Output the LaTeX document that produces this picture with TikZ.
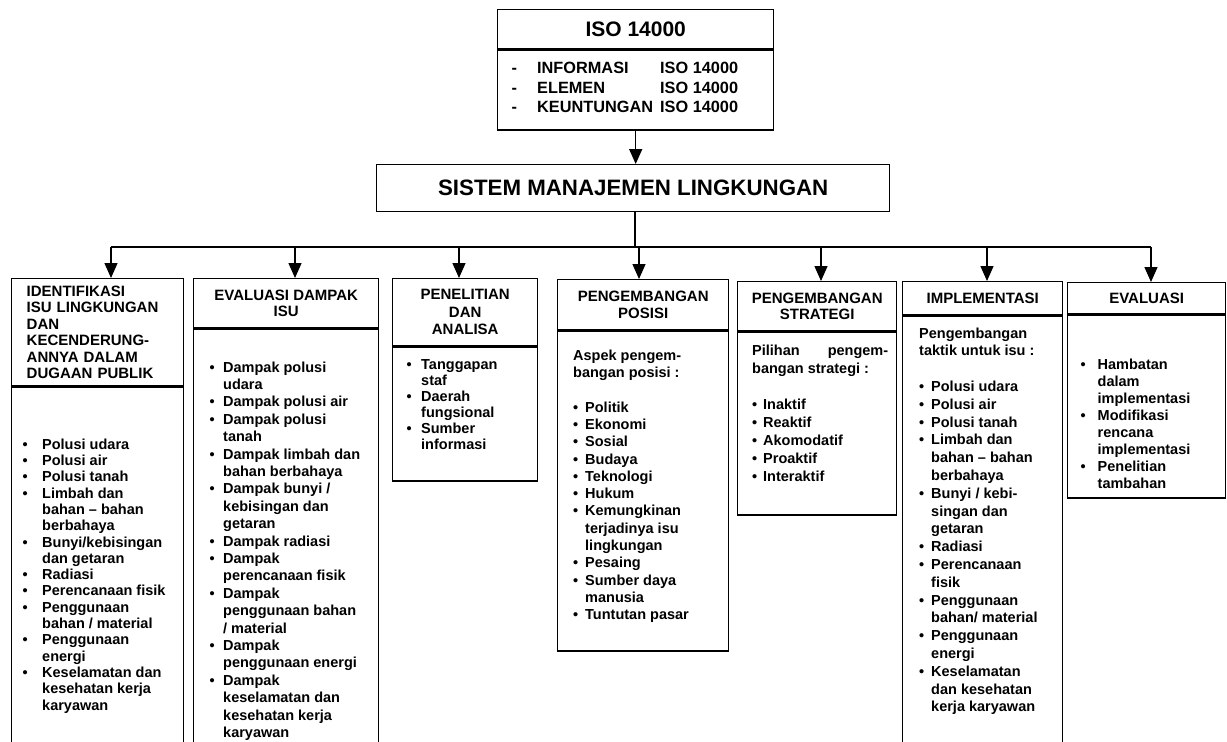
\documentclass[tikz,border=0pt]{standalone}
\usepackage{fontspec}
\setmainfont{Liberation Sans}
\usepackage{array}
\usepackage{tikz}
\usetikzlibrary{arrows.meta, positioning, calc}

\tikzset{
  box/.style={draw, line width=1.4pt, anchor=north west, inner sep=0pt},
  head/.style={box, align=center, font=\bfseries\fontsize{15pt}{16.5pt}\selectfont},
  lst/.style={anchor=north west, inner sep=0pt, font=\bfseries\fontsize{14.5pt}{#1}\selectfont},
  arr/.style={-{Triangle[length=15pt,width=13pt]}, line width=1.4pt}
}

\begin{document}
\begin{tikzpicture}[x=1pt, y=-1pt]
  \useasboundingbox (0,0) rectangle (1227,742);

  % ISO 14000 box
  \node[box, minimum width=276pt, minimum height=39pt, font=\bfseries\fontsize{21pt}{24pt}\selectfont] (isot) at (497,9) {ISO 14000};
  \node[box, minimum width=276pt, minimum height=80pt] (isob) at (isot.south west) {};
  \node[anchor=north west, inner sep=0pt, font=\bfseries\fontsize{16.3pt}{19.5pt}\selectfont] (isol) at (511.5,60) {%
    \begin{tabular}{@{}p{25.5pt}@{}p{123pt}@{}l@{}}
      - & INFORMASI & ISO 14000\\
      - & ELEMEN & ISO 14000\\
      - & KEUNTUNGAN & ISO 14000
    \end{tabular}};

  % Sistem manajemen lingkungan
  \node[box, minimum width=513pt, minimum height=47pt, font=\bfseries\fontsize{22.3pt}{26pt}\selectfont] (sml) at (376,164) {SISTEM MANAJEMEN LINGKUNGAN};
  \draw[arr] (isob.south) -- (isob.south |- sml.north);

  % Column headers
  \node[head, align=left, text width=142pt, inner xsep=15pt, minimum height=107pt] (h1) at (11,278)
    {IDENTIFIKASI\\ISU LINGKUNGAN\\DAN\\KECENDERUNG-\\ANNYA DALAM\\DUGAAN PUBLIK};
  \node[head, minimum width=185pt, minimum height=49pt] (h2) at (193,278) {EVALUASI DAMPAK\\ISU};
  \node[head, minimum width=145pt, minimum height=67pt, font=\bfseries\fontsize{15pt}{17.5pt}\selectfont] (h3) at (392,278) {PENELITIAN\\DAN\\ANALISA};
  \node[head, minimum width=171pt, minimum height=50pt] (h4) at (557,279) {PENGEMBANGAN\\POSISI};
  \node[head, minimum width=159pt, minimum height=49pt] (h5) at (737,281) {PENGEMBANGAN\\STRATEGI};
  \node[head, minimum width=160pt, minimum height=33pt] (h6) at (902,281) {IMPLEMENTASI};
  \node[head, minimum width=158pt, minimum height=31pt] (h7) at (1067,282) {EVALUASI};

  % Column bodies
  \node[box, minimum width=172pt, minimum height=370pt] (b1) at (h1.south west) {};
  \node[box, minimum width=185pt, minimum height=430pt] (b2) at (h2.south west) {};
  \node[box, minimum width=145pt, minimum height=134pt] (b3) at (h3.south west) {};
  \node[box, minimum width=171pt, minimum height=320pt] (b4) at (h4.south west) {};
  \node[box, minimum width=159pt, minimum height=183pt] (b5) at (h5.south west) {};
  \node[box, minimum width=160pt, minimum height=440pt] (b6) at (h6.south west) {};
  \node[box, minimum width=158pt, minimum height=183pt] (b7) at (h7.south west) {};

  % Bus and arrows
  \coordinate (bus) at (635,247);
  \draw[line width=1.4pt] (sml.south -| bus) -- (bus);
  \foreach \i/\x in {1/111, 2/295, 3/459, 4/639, 5/821, 6/987, 7/1151}
    \coordinate (a\i) at (\x,247);
  \draw[line width=1.4pt] (a1) -- (a7);
  \foreach \i in {1,...,7}
    \draw[arr] (a\i) -- (a\i |- h\i.north);

  % Lists
  \node[lst=16.3pt] (t1) at (22.5,437.6) {%
    \begin{tabular}{@{}p{19.5pt}@{}l@{}}
      \textbullet & Polusi udara\\
      \textbullet & Polusi air\\
      \textbullet & Polusi tanah\\
      \textbullet & Limbah dan\\
       & bahan -- bahan\\
       & berbahaya\\
      \textbullet & Bunyi/kebisingan\\
       & dan getaran\\
      \textbullet & Radiasi\\
      \textbullet & Perencanaan fisik\\
      \textbullet & Penggunaan\\
       & bahan / material\\
      \textbullet & Penggunaan\\
       & energi\\
      \textbullet & Keselamatan dan\\
       & kesehatan kerja\\
       & karyawan
    \end{tabular}};
  \node[lst=17.4pt] (t2) at (209.5,359.8) {%
    \begin{tabular}{@{}p{13.5pt}@{}l@{}}
      \textbullet & Dampak polusi\\
       & udara\\
      \textbullet & Dampak polusi air\\
      \textbullet & Dampak polusi\\
       & tanah\\
      \textbullet & Dampak limbah dan\\
       & bahan berbahaya\\
      \textbullet & Dampak bunyi /\\
       & kebisingan dan\\
       & getaran\\
      \textbullet & Dampak radiasi\\
      \textbullet & Dampak\\
       & perencanaan fisik\\
      \textbullet & Dampak\\
       & penggunaan bahan\\
       & / material\\
      \textbullet & Dampak\\
       & penggunaan energi\\
      \textbullet & Dampak\\
       & keselamatan dan\\
       & kesehatan kerja\\
       & karyawan
    \end{tabular}};
  \node[lst=16pt] (t3) at (406.5,357.8) {%
    \begin{tabular}{@{}p{14.5pt}@{}l@{}}
      \textbullet & Tanggapan\\
       & staf\\
      \textbullet & Daerah\\
       & fungsional\\
      \textbullet & Sumber\\
       & informasi
    \end{tabular}};
  \node[lst=17.3pt] (t4) at (573,347.9) {%
    \begin{tabular}{@{}p{12pt}@{}l@{}}
      \multicolumn{2}{@{}l@{}}{Aspek pengem-}\\
      \multicolumn{2}{@{}l@{}}{bangan posisi :}\\
       & \\
      \textbullet & Politik\\
      \textbullet & Ekonomi\\
      \textbullet & Sosial\\
      \textbullet & Budaya\\
      \textbullet & Teknologi\\
      \textbullet & Hukum\\
      \textbullet & Kemungkinan\\
       & terjadinya isu\\
       & lingkungan\\
      \textbullet & Pesaing\\
      \textbullet & Sumber daya\\
       & manusia\\
      \textbullet & Tuntutan pasar
    \end{tabular}};
  \node[lst=18pt] (t5) at (752,342.4) {%
    \begin{tabular}{@{}p{11pt}@{}l@{}}
      \multicolumn{2}{@{}l@{}}{\makebox[136pt][s]{Pilihan\hfill pengem-}}\\
      \multicolumn{2}{@{}l@{}}{bangan strategi :}\\
       & \\
      \textbullet & Inaktif\\
      \textbullet & Reaktif\\
      \textbullet & Akomodatif\\
      \textbullet & Proaktif\\
      \textbullet & Interaktif
    \end{tabular}};
  \node[lst=17.8pt] (t6) at (919,325.5) {%
    \begin{tabular}{@{}p{12pt}@{}l@{}}
      \multicolumn{2}{@{}l@{}}{Pengembangan}\\
      \multicolumn{2}{@{}l@{}}{taktik untuk isu :}\\
       & \\
      \textbullet & Polusi udara\\
      \textbullet & Polusi air\\
      \textbullet & Polusi tanah\\
      \textbullet & Limbah dan\\
       & bahan -- bahan\\
       & berbahaya\\
      \textbullet & Bunyi / kebi-\\
       & singan dan\\
       & getaran\\
      \textbullet & Radiasi\\
      \textbullet & Perencanaan\\
       & fisik\\
      \textbullet & Penggunaan\\
       & bahan/ material\\
      \textbullet & Penggunaan\\
       & energi\\
      \textbullet & Keselamatan\\
       & dan kesehatan\\
       & kerja karyawan
    \end{tabular}};
  \node[lst=17pt] (t7) at (1080.5,357.1) {%
    \begin{tabular}{@{}p{17pt}@{}l@{}}
      \textbullet & Hambatan\\
       & dalam\\
       & implementasi\\
      \textbullet & Modifikasi\\
       & rencana\\
       & implementasi\\
      \textbullet & Penelitian\\
       & tambahan
    \end{tabular}};
\end{tikzpicture}
\end{document}
